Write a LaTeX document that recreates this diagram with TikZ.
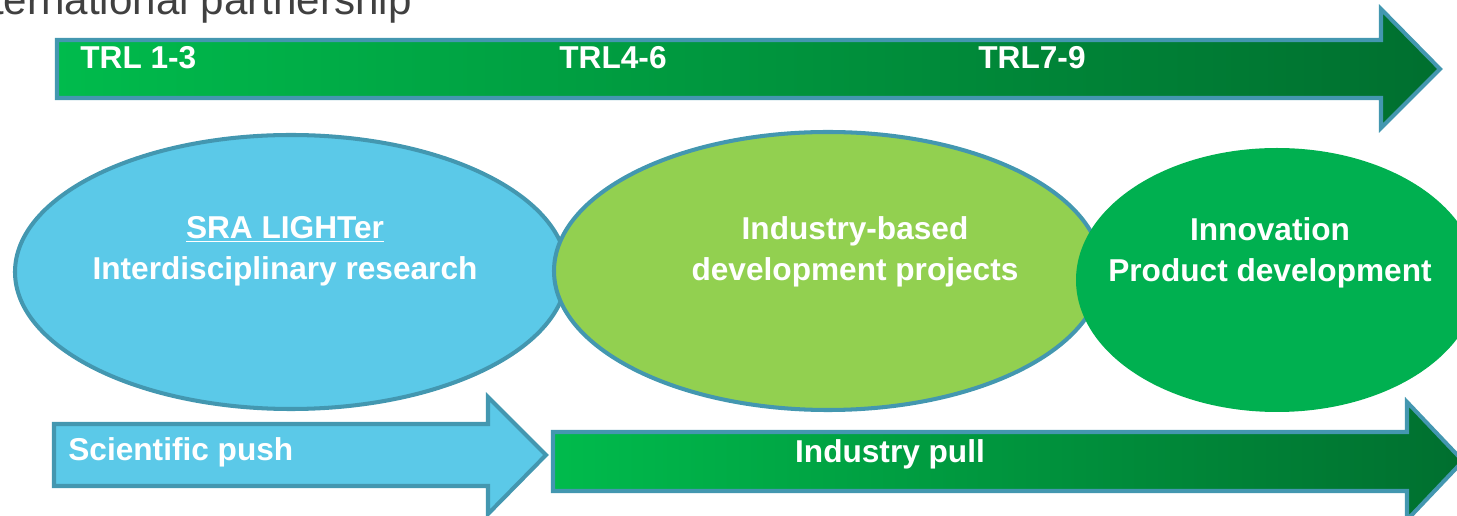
\documentclass[tikz,border=0pt]{standalone}
\usepackage{fontspec}
\setmainfont{Liberation Sans}
\definecolor{rim}{HTML}{4397B0}
\definecolor{sky}{HTML}{5BC9E8}
\definecolor{lime}{HTML}{92D050}
\definecolor{leaf}{HTML}{00B050}
\definecolor{brightgreen}{HTML}{00BB4C}
\definecolor{deepgreen}{HTML}{006F2F}
\definecolor{titlegray}{HTML}{404040}
\tikzset{
	lbl/.style={text=white, font=\fontsize{18}{23.5}\selectfont\bfseries, align=center, inner sep=0pt},
}
\begin{document}
\begin{tikzpicture}[x=0.02cm, y=-0.02cm]
		\clip (0,0) rectangle (1457,516);
		\useasboundingbox (0,0) rectangle (1457,516);
		\node[titlegray, font=\fontsize{24}{28}\selectfont, anchor=base east, inner sep=0pt] (title) at (412,15) {ternational partnership};

		\draw[rim, line width=2.3pt, left color=brightgreen, right color=deepgreen] (57,40) -- (1381,40) -- (1381,9) -- (1440,69) -- (1381,128) -- (1381,98) -- (57,98) -- cycle;
		\node[lbl, anchor=base west] (trla) at (80,69) {TRL 1-3};
		\node[lbl, anchor=base] (trlb) at (613,69) {TRL4-6};
		\node[lbl, anchor=base] (trlc) at (1032,69) {TRL7-9};

		\draw[rim, line width=2.3pt, fill=sky] (291,272) ellipse (276 and 137);
		\draw[rim, line width=2.3pt, fill=lime] (828,271) ellipse (274 and 139);
		\fill[leaf] (1277,280) ellipse (201 and 132);
		\node[lbl] (sra) at (285,251) {\underline{SRA LIGHTer}\\Interdisciplinary research};
		\node[lbl] (industry) at (855,252) {Industry-based\\development projects};
		\node[lbl] (innovation) at (1270,253) {Innovation\\Product development};

		\draw[rim, line width=2.3pt, fill=sky] (54,424) -- (488,424) -- (488,397) -- (546,455) -- (488,514) -- (488,486) -- (54,486) -- cycle;
		\draw[rim, line width=2.3pt, left color=brightgreen, right color=deepgreen] (553,432) -- (1407,432) -- (1407,402) -- (1463,461) -- (1407,520) -- (1407,491) -- (553,491) -- cycle;
		\node[lbl, anchor=base west] (push) at (68,461) {Scientific push};
		\node[lbl, anchor=base] (pull) at (890,463) {Industry pull};
	\end{tikzpicture}
\end{document}
